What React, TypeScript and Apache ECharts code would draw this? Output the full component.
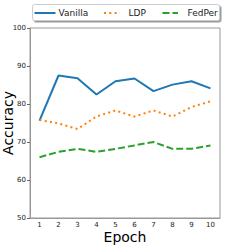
import React, { useEffect, useRef } from "react";
import * as echarts from "echarts";

const epochs = ["1", "2", "3", "4", "5", "6", "7", "8", "9", "10"];
const vanilla = [75.6, 87.5, 86.8, 82.5, 86.0, 86.7, 83.4, 85.1, 86.0, 84.1];
const ldp = [75.8, 74.9, 73.4, 76.7, 78.3, 76.7, 78.3, 76.7, 79.2, 80.7];
const fedper = [66.0, 67.4, 68.2, 67.4, 68.2, 69.1, 70.0, 68.2, 68.2, 69.1];
const seriesNames = ["Vanilla", "LDP", "FedPer"];
const colors = ["#1f77b4", "#ff7f0e", "#2ca02c"];

export default function App() {
  const ref = useRef<HTMLDivElement>(null);
  useEffect(() => {
    document.body.style.margin = "0";
    const chart = echarts.init(ref.current!, undefined, { renderer: "svg" });
    const font = "DejaVu Sans";
    const dashes: any[] = ["solid", [2, 3.3], [7, 3]];
    const lineX = [34.5, 104, 162.5];
    const lineW = [21, 16, 15.5];
    const textX = [58.5, 128.5, 187.5];
    const legendEls: any[] = [
      {
        type: "rect",
        shape: { x: 32.5, y: 4.5, width: 187, height: 16, r: 2 },
        style: {
          fill: "#fff",
          stroke: "#ccc",
          lineWidth: 1,
          shadowColor: "rgba(0,0,0,0.4)",
          shadowOffsetX: 1.5,
          shadowOffsetY: 1.5,
          shadowBlur: 0,
        },
      },
    ];
    seriesNames.forEach((n, i) => {
      legendEls.push({
        type: "line",
        shape: { x1: lineX[i], y1: 13, x2: lineX[i] + lineW[i], y2: 13 },
        style: { stroke: colors[i], lineWidth: 2, lineDash: dashes[i] === "solid" ? null : dashes[i] },
      });
      legendEls.push({
        type: "text",
        x: textX[i],
        y: 13,
        style: {
          text: n,
          fontSize: 9,
          fontFamily: font,
          fill: "#222",
          verticalAlign: "middle",
          align: "left",
        },
      });
    });
    chart.setOption({
      animation: false,
      textStyle: { fontFamily: font },
      graphic: [{ type: "group", elements: legendEls, z: 100 }],
      grid: {
        left: 30,
        right: 25,
        top: 28,
        bottom: 27,
        show: true,
        borderColor: "#999",
        borderWidth: 1,
        outerBoundsMode: "none",
        containLabel: false,
      },
      xAxis: {
        type: "category",
        data: epochs,
        boundaryGap: true,
        name: "Epoch",
        nameLocation: "middle",
        nameGap: 12,
        nameMoveOverlap: false,
        nameTextStyle: { fontSize: 14, color: "#000", fontFamily: font, verticalAlign: "top" },
        axisLine: { lineStyle: { color: "#999" } },
        axisTick: { alignWithLabel: true, length: 3, lineStyle: { color: "#666" } },
        axisLabel: { fontSize: 7, color: "#222", margin: 3 },
        splitLine: { show: false },
      },
      yAxis: {
        type: "value",
        min: 50,
        max: 100,
        interval: 10,
        name: "Accuracy",
        nameLocation: "middle",
        nameGap: 15,
        nameMoveOverlap: false,
        nameTextStyle: { fontSize: 14, color: "#000", fontFamily: font },
        axisLine: { show: true, lineStyle: { color: "#999" } },
        axisTick: { show: true, length: 3, lineStyle: { color: "#666" } },
        axisLabel: { fontSize: 7, color: "#222", margin: 4 },
        splitLine: { show: false },
      },
      series: [
        {
          name: seriesNames[0],
          type: "line",
          data: vanilla,
          symbol: "none",
          lineStyle: { width: 2, color: colors[0] },
        },
        {
          name: seriesNames[1],
          type: "line",
          data: ldp,
          symbol: "none",
          lineStyle: { width: 2, color: colors[1], type: dashes[1] },
        },
        {
          name: seriesNames[2],
          type: "line",
          data: fedper,
          symbol: "none",
          lineStyle: { width: 2, color: colors[2], type: dashes[2] },
        },
      ],
    });
    return () => chart.dispose();
  }, []);
  return <div ref={ref} style={{ width: 245, height: 245 }} />;
}
